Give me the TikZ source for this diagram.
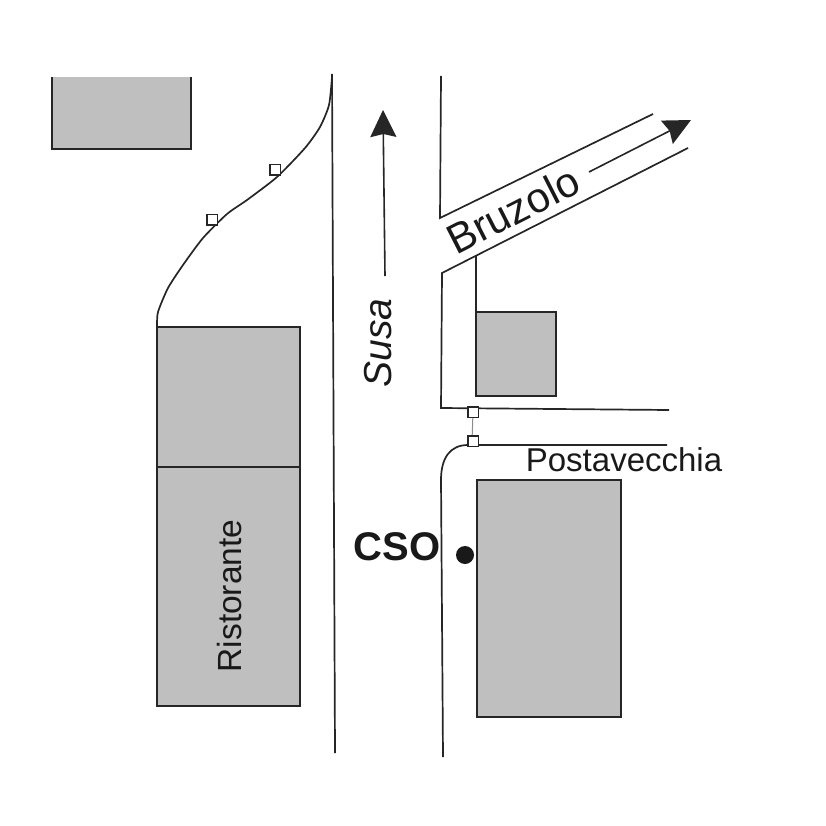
\documentclass[tikz,border=0pt]{standalone}
\usepackage{fontspec}
\setmainfont{Liberation Sans}
\usetikzlibrary{arrows.meta}

\tikzset{
    road/.style={line width=1.7pt, black!85},
    building/.style={draw=black!85, line width=1.7pt, fill=black!25},
    pole/.style={draw=black!85, line width=1.5pt, fill=white, minimum size=10.5pt, inner sep=0pt},
    pointer/.style={line width=1.6pt, black!85, -{Stealth[width=26pt,length=27pt,inset=3pt]}},
    label/.style={text=black!90, inner sep=0pt}
}

\begin{document}
\begin{tikzpicture}[x=1pt, y=-1pt]
    \useasboundingbox (0,0) rectangle (826,826);

    % buildings
    \fill[black!25] (52,77) rectangle (191,149);
    \draw[road] (52,77) -- (52,149) -- (191,149) -- (191,77);
    \draw[building] (157,327) rectangle (300,467);
    \draw[building] (157,467) rectangle (300,706);
    \draw[building] (476,312) rectangle (556,396);
    \draw[building] (477,480) rectangle (621,717);

    % main road
    \draw[road] (332,74) -- (335,753);
    \draw[road] plot[smooth, tension=0.4] coordinates {(157,327) (158,312) (168,288) (183,265)
        (203,238) (227,214) (247,200) (277,177) (305,148) (320,127) (329,105) (332,77)};
    \draw[road] (443,757) -- (441,480) .. controls (441,458) and (450,445) .. (468,445) -- (667,445);
    \draw[road] (476,255) -- (476,312);

    % side road
    \draw[road] (441,76) -- (440,218) -- (653,114);
    \draw[road] (688,148) -- (442,273) -- (441,408) -- (669,410);

    % poles
    \draw[black!45, line width=1pt] (473,412) -- (472,441);
    \node[pole] (P1) at (212,220) {};
    \node[pole] (P2) at (275,170) {};
    \node[pole] (P3) at (473,412) {};
    \node[pole] (P4) at (473,441) {};

    % arrows
    \coordinate (SusaTail) at (385,276);
    \coordinate (SusaTip) at (383,110);
    \coordinate (BruzoloTail) at (589,172);
    \coordinate (BruzoloTip) at (691,120);
    \draw[pointer] (SusaTail) -- (SusaTip);
    \draw[pointer] (BruzoloTail) -- (BruzoloTip);

    % labels
    \fill[black!90] (465,555) circle[radius=9];
    \node[label, font=\fontsize{39}{39}\selectfont, rotate=90] (Susa) at (378,343) {\itshape Susa};
    \node[label, font=\fontsize{42}{42}\selectfont, rotate=27] (Bruzolo) at (513,210) {Bruzolo};
    \node[label, font=\fontsize{33}{33}\selectfont] (Posta) at (624,460) {Postavecchia};
    \node[label, font=\fontsize{40}{40}\selectfont\bfseries] (CSO) at (397,547) {CSO};
    \node[label, font=\fontsize{33.5}{33.5}\selectfont, rotate=90] (Ristorante) at (230,596) {Ristorante};
\end{tikzpicture}
\end{document}
